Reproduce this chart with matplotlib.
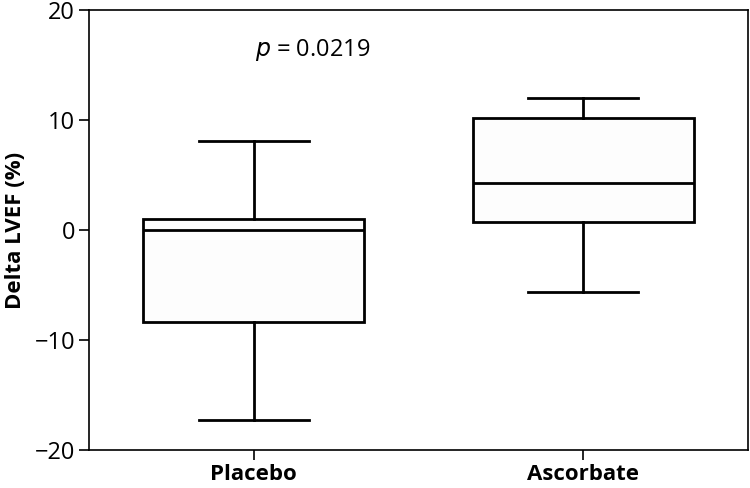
import matplotlib.pyplot as plt

# Data
groups = ['Placebo', 'Ascorbate']
whislo = [-17.3, -5.6]
q1 = [-8.4, 0.75]
med = [0.0, 4.3]
q3 = [1.0, 10.15]
whishi = [8.1, 12.0]

plt.rcParams['font.family'] = ['Open Sans', 'DejaVu Sans']

fig = plt.figure(figsize=(7.5, 4.88), dpi=100)
ax = fig.add_axes([89/750, 1 - 450/488, 659/750, 440/488])

stats = []
for i, g in enumerate(groups):
    stats.append(dict(label=g, whislo=whislo[i], q1=q1[i], med=med[i],
                      q3=q3[i], whishi=whishi[i], fliers=[]))

ax.bxp(stats, positions=[1, 2], widths=0.67, patch_artist=True, showfliers=False,
       boxprops=dict(facecolor='#fdfdfd', edgecolor='black', linewidth=2),
       medianprops=dict(color='black', linewidth=2),
       whiskerprops=dict(color='black', linewidth=2),
       capprops=dict(color='black', linewidth=2))

ax.set_xlim(0.5, 2.5)
ax.set_ylim(-20, 20)
ax.set_yticks([-20, -10, 0, 10, 20])
ax.set_yticklabels(['\u221220', '\u221210', '0', '10', '20'])
ax.set_xticks([1, 2])
ax.set_xticklabels(groups, fontweight='bold', fontsize=16)
ax.tick_params(axis='y', labelsize=17, length=7, width=1.2, pad=3)
ax.tick_params(axis='x', length=7, width=1.2, pad=3)
for s in ax.spines.values():
    s.set_linewidth(1.2)
ax.set_ylabel('Delta LVEF (%)', fontsize=16, fontweight='bold', labelpad=6)

ax.text(1.18, 16.4, '$p$ = 0.0219', fontsize=17, ha='center', va='center')

fig.savefig('out.png', dpi=100)
